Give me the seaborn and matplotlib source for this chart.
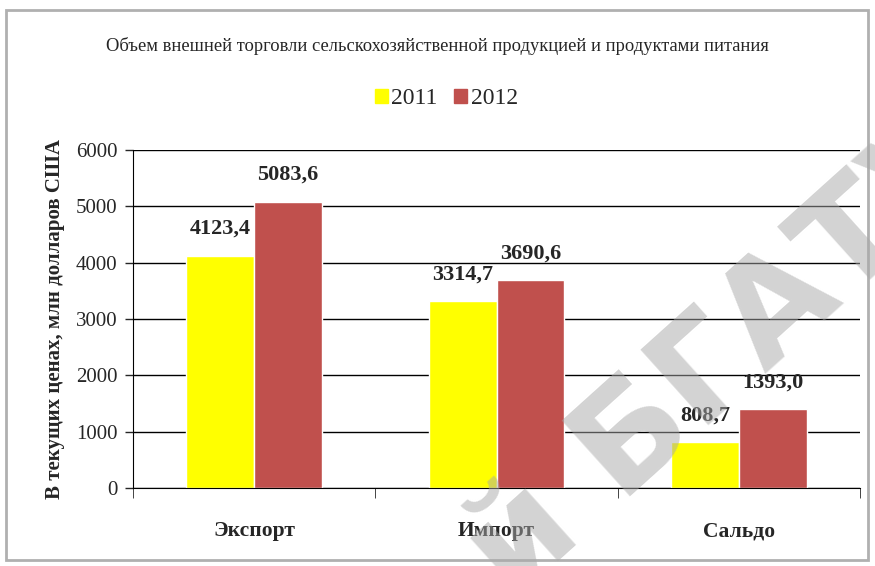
import pandas as pd
import seaborn as sns
import matplotlib.pyplot as plt
from matplotlib.patches import Rectangle

categories = ["Экспорт", "Импорт", "Сальдо"]
years = ["2011", "2012"]
values_2011 = [4123.4, 3314.7, 808.7]
values_2012 = [5083.6, 3690.6, 1393.0]

title = "Объем внешней торговли сельскохозяйственной продукцией и продуктами питания"
ylabel = "В текущих ценах, млн долларов США"


def fmt(v):
    return f"{v:.1f}".replace(".", ",")


def main():
    sns.set_style("white")
    plt.rcParams['font.family'] = ['Liberation Serif', 'DejaVu Serif']

    df = pd.DataFrame({
        'cat': categories * 2,
        'year': [years[0]] * 3 + [years[1]] * 3,
        'val': values_2011 + values_2012,
    })

    fig = plt.figure(figsize=(8.75, 5.66), dpi=100)
    ax = fig.add_axes([0.152, 0.138, 0.831, 0.597])
    sns.barplot(data=df, x='cat', y='val', hue='year', palette=['#ffff00', '#c0504d'],
                width=0.56, ax=ax, saturation=1, legend=False)

    for cont, vals in zip(ax.containers, [values_2011, values_2012]):
        ax.bar_label(cont, labels=[fmt(v) for v in vals], padding=12,
                     fontsize=16, fontweight='bold')

    ax.set_ylim(0, 6000)
    ax.set_yticks(range(0, 6001, 1000))
    ax.yaxis.grid(True, color='black', linewidth=1)
    ax.set_axisbelow(True)
    for s in ['top', 'right']:
        ax.spines[s].set_visible(False)
    ax.spines['left'].set_color('black')
    ax.spines['bottom'].set_color('black')
    ax.tick_params(axis='y', direction='out', length=6, width=1, pad=5,
                   labelsize=15, left=True)
    ax.tick_params(axis='x', length=0, labelsize=15.5, pad=24)
    for t in ax.get_xticklabels():
        t.set_fontweight('bold')
    # category separator ticks
    ax.set_xticks([-0.5, 0.5, 1.5, 2.5], minor=True)
    ax.tick_params(axis='x', which='minor', direction='out', length=7, bottom=True)
    ax.set_xlim(-0.5, 2.5)
    ax.set_xlabel("")
    ax.set_ylabel(ylabel, fontsize=15, fontweight='bold', labelpad=8)

    fig.text(0.5, 0.918, title, ha='center', va='center', fontsize=13.3)

    handles = [Rectangle((0, 0), 1, 1, color='#ffff00'), Rectangle((0, 0), 1, 1, color='#c0504d')]
    fig.legend(handles, years, loc='center', bbox_to_anchor=(0.51, 0.826), ncol=2,
               frameon=False, fontsize=17, handlelength=0.55, handleheight=0.55,
               handletextpad=0.15, columnspacing=0.7)

    # page frame
    fig.patches.append(Rectangle((0.007, 0.01), 0.985, 0.972, transform=fig.transFigure,
                                 fill=False, edgecolor='#b0b0b0', linewidth=2))

    # watermark
    fig.text(728 / 875, 1 - 356 / 566, "й БГАТУ", ha='center', va='center',
             fontsize=100, fontweight='bold', family=['DejaVu Sans'], color='#a8a8a8',
             alpha=0.5, rotation=42, rotation_mode='anchor', zorder=10)

    fig.savefig('out.png', dpi=100)


if __name__ == '__main__':
    main()
